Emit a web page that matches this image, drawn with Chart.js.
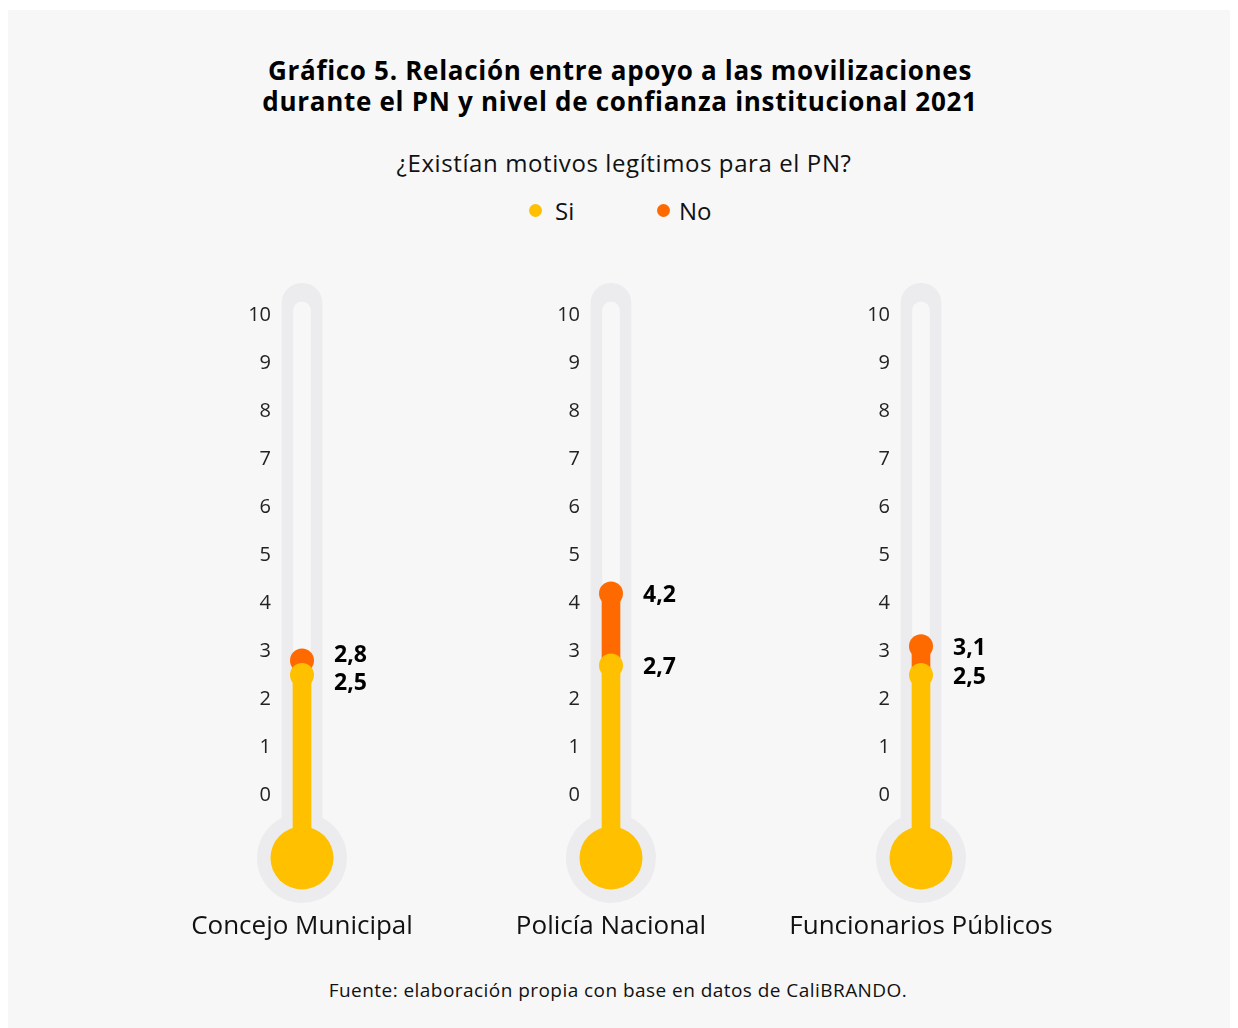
<!DOCTYPE html>
<html lang="es">
<head>
<meta charset="UTF-8">
<title>Gráfico 5. Relación entre apoyo a las movilizaciones</title>
<script src="https://cdn.jsdelivr.net/npm/chart.js"></script>
<style>
  body { margin: 0; width: 1238px; height: 1028px; background: #fff; font-family: "Open Sans", sans-serif; color: #000; position: relative; overflow: hidden; }
  .panel { position: absolute; left: 8px; top: 10px; width: 1222px; height: 1018px; background: #f7f7f7; }
  .titulo { position: absolute; left: 0; top: 55px; width: 1240px; text-align: center; font-weight: 700; font-size: 26px; letter-spacing: 0.7px; line-height: 31px; }
  .subtitulo { position: absolute; left: 0; top: 147px; width: 1248px; text-align: center; font-size: 24px; letter-spacing: 0.6px; line-height: 32px; color: #111; }
  .leyenda { position: absolute; top: 196px; font-size: 24px; line-height: 30px; color: #111; }
  .leyenda i { position: absolute; top: 8px; width: 13px; height: 13px; border-radius: 50%; }
  .termo { position: absolute; top: 279px; width: 300px; height: 668px; }
  .fuente { position: absolute; left: 0; top: 977px; width: 1236px; text-align: center; font-size: 19px; letter-spacing: 0.45px; line-height: 26px; color: #111; }
</style>
</head>
<body>
<div class="panel"></div>
<div class="titulo">Gráfico 5. Relación entre apoyo a las movilizaciones<br>durante el PN y nivel de confianza institucional 2021</div>
<div class="subtitulo">¿Existían motivos legítimos para el PN?</div>
<div class="leyenda" style="left:529px"><i style="left:0;background:#ffc000"></i><span style="margin-left:26px">Si</span></div>
<div class="leyenda" style="left:657px"><i style="left:0;background:#ff6a00"></i><span style="margin-left:22px">No</span></div>
<div class="termo" style="left:149px"><canvas id="termo0" width="300" height="668"></canvas></div>
<div class="termo" style="left:458px"><canvas id="termo1" width="300" height="668"></canvas></div>
<div class="termo" style="left:768px"><canvas id="termo2" width="300" height="668"></canvas></div>
<div class="fuente">Fuente: elaboración propia con base en datos de CaliBRANDO.</div>

<script>
// datos del gráfico
const categorias = ['Concejo Municipal', 'Policía Nacional', 'Funcionarios Públicos'];
const valoresSi = [2.5, 2.7, 2.5];
const valoresNo = [2.8, 4.2, 3.1];
const marcasEje = [0, 1, 2, 3, 4, 5, 6, 7, 8, 9, 10];

// colores y forma del termómetro
const AMARILLO = '#ffc000';
const NARANJA = '#ff6a00';
const GRIS = '#ececee';
const FONDO = '#f7f7f7';
const BULBO = -1.3125;      // centro del bulbo, debajo del 0
const TOPE_TUBO = 10.66;
const TOPE_CANAL = 10.27;

Chart.defaults.font.family = '"Open Sans", sans-serif';

const formato = v => v.toFixed(1).replace('.', ',');

// etiquetas de valor a la derecha del tubo
const etiquetasValores = {
    id: 'etiquetasValores',
    afterDatasetsDraw(chart, args, opts) {
        const i = opts.indice;
        const ctx = chart.ctx;
        const area = chart.chartArea;
        let yNo = chart.getDatasetMeta(6).data[0].y;
        let ySi = chart.getDatasetMeta(7).data[0].y;
        const sep = 28;
        if (ySi - yNo < sep) {
            const m = (ySi + yNo) / 2;
            yNo = m - sep / 2;
            ySi = m + sep / 2;
        }
        const x = (area.left + area.right) / 2 + 32;
        ctx.save();
        ctx.font = 'bold 23px "Open Sans", sans-serif';
        ctx.fillStyle = '#000';
        ctx.textBaseline = 'middle';
        ctx.fillText(formato(valoresNo[i]), x, yNo + 2);
        ctx.fillText(formato(valoresSi[i]), x, ySi + 2);
        ctx.restore();
    }
};

function punto(valor, radio, color, orden) {
    return {
        type: 'line', data: [valor], showLine: false, clip: false, order: orden,
        pointRadius: radio, pointHoverRadius: radio, pointBackgroundColor: color, pointBorderWidth: 0
    };
}

function barra(desde, hasta, ancho, radio, color, orden, etiqueta) {
    return {
        type: 'bar', label: etiqueta, data: [[desde, hasta]], backgroundColor: color,
        barThickness: ancho, borderRadius: radio, borderSkipped: false, grouped: false, order: orden
    };
}

function crearTermometro(i) {
    const ctx = document.getElementById('termo' + i).getContext('2d');
    new Chart(ctx, {
        type: 'bar',
        data: {
            labels: [categorias[i]],
            datasets: [
                punto(BULBO, 45, GRIS, 9),
                barra(BULBO, TOPE_TUBO, 40, 20, GRIS, 8),
                barra(BULBO, TOPE_CANAL, 17, 8.5, FONDO, 7),
                punto(BULBO, 31.5, AMARILLO, 6),
                barra(BULBO, valoresSi[i], 18, 0, AMARILLO, 5, 'Si'),
                barra(valoresSi[i], valoresNo[i], 18, 0, NARANJA, 4, 'No'),
                punto(valoresNo[i], 12, NARANJA, 3),
                punto(valoresSi[i], 12, AMARILLO, 2)
            ]
        },
        options: {
            responsive: false,
            animation: false,
            events: [],
            layout: { autoPadding: false, padding: { left: 90, right: 124, top: 0, bottom: 0 } },
            plugins: {
                legend: { display: false },
                tooltip: { enabled: false },
                etiquetasValores: { indice: i }
            },
            scales: {
                x: {
                    grid: { display: false, drawTicks: false },
                    border: { display: false },
                    ticks: { font: { size: 26 }, color: '#111', padding: 8, maxRotation: 0, minRotation: 0 },
                    afterFit: s => { s.height = 44; s.paddingLeft = 0; s.paddingRight = 0; }
                },
                y: {
                    min: -2.25,
                    max: 10.75,
                    grid: { display: false, drawTicks: false },
                    border: { display: false },
                    ticks: { font: { size: 20 }, color: '#222', padding: 8 },
                    afterBuildTicks: s => { s.ticks = marcasEje.map(v => ({ value: v })); },
                    afterFit: s => { s.width = 40; s.paddingTop = 0; s.paddingBottom = 0; }
                }
            }
        },
        plugins: [etiquetasValores]
    });
}

categorias.forEach((c, i) => crearTermometro(i));
</script>
</body>
</html>
